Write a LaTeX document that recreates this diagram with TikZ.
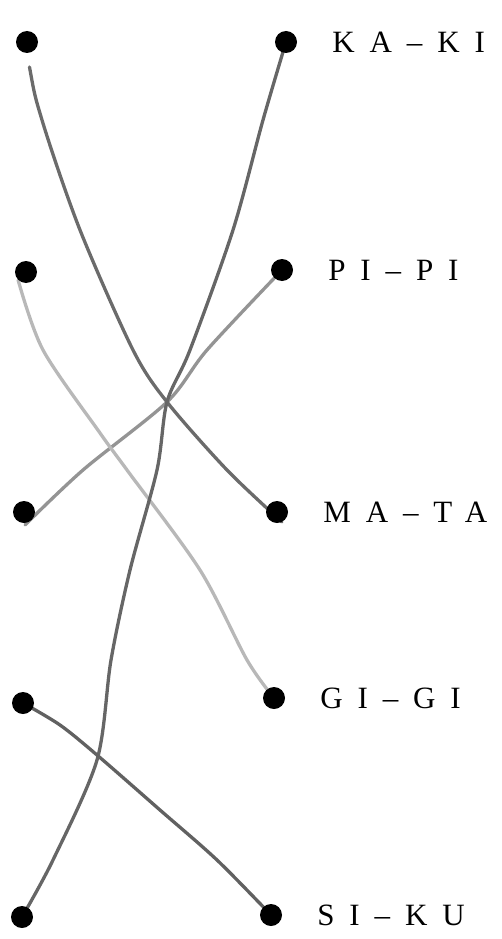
\documentclass[tikz,border=0pt]{standalone}
\usepackage{fontspec}
\setmainfont{Liberation Serif}
\newfontfamily\pairfont[LetterSpace=48]{Liberation Serif}
\usetikzlibrary{positioning,backgrounds}

\begin{document}
\begin{tikzpicture}[x=1pt,y=-1pt,
  dot/.style={circle,fill=black,inner sep=0pt,minimum size=22pt},
  pair/.style={right=35pt of #1,inner sep=0pt,font=\fontsize{31}{36}\pairfont},
  pencil/.style={line width=3.3pt,line cap=round,draw=#1}]

\useasboundingbox (0,0) rectangle (502,939);

% left dots
\node[dot] (l1) at (27,42) {};
\node[dot] (l2) at (26,272) {};
\node[dot] (l3) at (24,512) {};
\node[dot] (l4) at (23,703) {};
\node[dot] (l5) at (22,917) {};

% right dots
\node[dot] (r1) at (286,42) {};
\node[dot] (r2) at (282,270) {};
\node[dot] (r3) at (277,512) {};
\node[dot] (r4) at (274,698) {};
\node[dot] (r5) at (271,915) {};

% syllable pairs
\node[pair=r1] (ka) {KA–KI};
\node[pair=r2] (pi) {PI–PI};
\node[pair=r3] (ma) {MA–TA};
\node[pair=r4] (gi) {GI–GI};
\node[pair=r5] (si) {SI–KU};

% pencil lines
\begin{scope}[on background layer]
\draw[pencil=black!42] plot[smooth] coordinates
  {(r2) (207,350) (167,402) (83,470) (25,525)};
\draw[pencil=black!28] plot[smooth] coordinates
  {(l2.south west) (43,350) (100,433) (127,470) (200,570) (247,660) (r4)};
\draw[pencil=black!58, shorten <=14pt] plot[smooth] coordinates
  {(l1.south) (42,120) (80,230) (133,350) (167,402) (227,470) (282,522)};
\draw[pencil=black!60] plot[smooth] coordinates
  {(r1) (263,120) (233,230) (190,350) (167,402) (157,470) (130,570)
   (111,660) (97,760) (53,860) (l5)};
\draw[pencil=black!62] plot[smooth] coordinates
  {(l4) (60,725) (97,755) (160,810) (217,860) (r5)};
\end{scope}

\end{tikzpicture}
\end{document}
